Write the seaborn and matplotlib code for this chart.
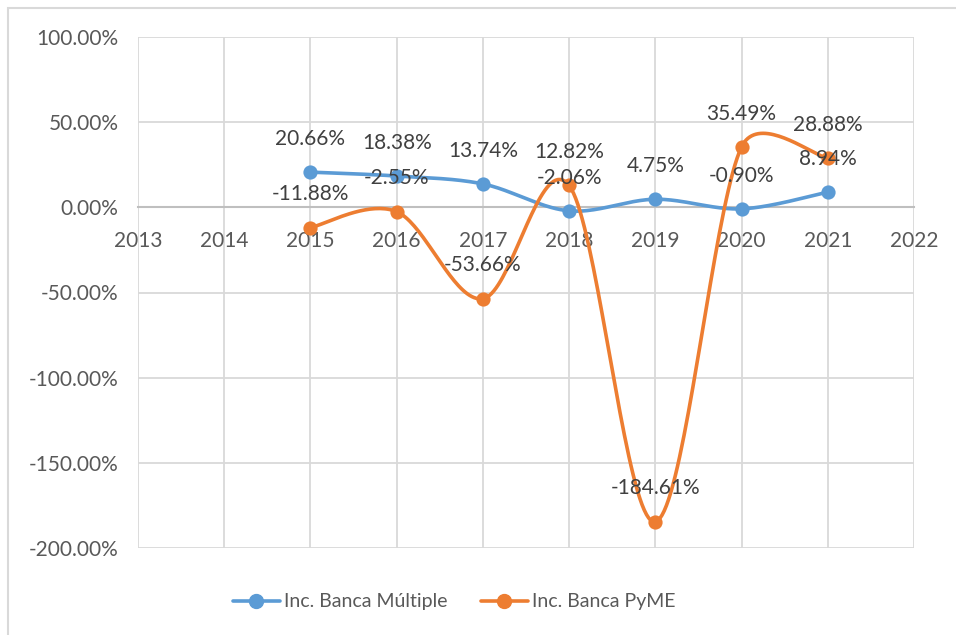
import numpy as np
import pandas as pd
import matplotlib
matplotlib.use("Agg")
import matplotlib.pyplot as plt
from matplotlib.lines import Line2D
from matplotlib.patches import Rectangle
import seaborn as sns

# Data
years = [2015, 2016, 2017, 2018, 2019, 2020, 2021]
banca_multiple = [20.66, 18.38, 13.74, -2.06, 4.75, -0.90, 8.94]
banca_pyme = [-11.88, -2.55, -53.66, 12.82, -184.61, 35.49, 28.88]
series_names = ["Inc. Banca Múltiple", "Inc. Banca PyME"]
colors = ["#5B9BD5", "#ED7D31"]
x_ticks = list(range(2013, 2023))
y_ticks = [100, 50, 0, -50, -100, -150, -200]

# pixel size of one data unit, used so the smoothing behaves like Excel's
PX_X, PX_Y = 86.2, 1.703


def smooth(xs, ys, n=40, clamp=0.45):
    # Excel-like smoothed line: Catmull-Rom Bezier handles, shortened when
    # they get long compared with the neighbouring segment (on screen)
    p = np.column_stack([np.asarray(xs, float) * PX_X, np.asarray(ys, float) * PX_Y])
    m = len(p)
    px, py = [], []

    def handle(i, seg):
        d = (p[min(i + 1, m - 1)] - p[max(i - 1, 0)]) / 6
        ln = np.linalg.norm(d)
        if ln > clamp * seg:
            d = d * clamp * seg / ln
        return d

    for i in range(m - 1):
        seg = np.linalg.norm(p[i + 1] - p[i])
        c1 = p[i] + handle(i, seg)
        c2 = p[i + 1] - handle(i + 1, seg)
        t = np.linspace(0, 1, n)[:, None]
        pts = ((1 - t) ** 3) * p[i] + 3 * ((1 - t) ** 2) * t * c1 + 3 * (1 - t) * t ** 2 * c2 + t ** 3 * p[i + 1]
        px.extend(pts[:, 0] / PX_X)
        py.extend(pts[:, 1] / PX_Y)
    return pd.DataFrame({"x": px, "y": py})


sns.set_theme(style="white")
plt.rcParams["font.family"] = ["Lato", "DejaVu Sans"]
text_color = "#595959"
grid_color = "#D9D9D9"
fs = 15

fig = plt.figure(figsize=(9.56, 6.35), dpi=100)
ax = fig.add_axes([138 / 956, 1 - 548 / 635, 776 / 956, 511 / 635])

for name, vals, col in zip(series_names, [banca_multiple, banca_pyme], colors):
    curve = smooth(years, vals)
    sns.lineplot(data=curve, x="x", y="y", ax=ax, color=col, linewidth=2.6,
                 sort=False, estimator=None, zorder=3)
    pts = pd.DataFrame({"year": years, "val": vals})
    sns.scatterplot(data=pts, x="year", y="val", ax=ax, color=col, s=105,
                    edgecolor=col, linewidth=0, zorder=4)
    for x, v in zip(years, vals):
        ax.annotate(f"{v:.2f}%", (x, v), xytext=(0, 24), textcoords="offset points",
                    ha="center", va="center", fontsize=fs, color="#404040", zorder=5)

ax.set_xlim(2013, 2022)
ax.set_ylim(-200, 100)
ax.set_xticks(x_ticks)
ax.set_yticks(y_ticks)
ax.set_yticklabels([f"{v:.2f}%" for v in y_ticks])
ax.grid(True, color=grid_color, linewidth=1.3)
ax.set_axisbelow(True)
for s in ["top", "right", "left"]:
    ax.spines[s].set_visible(False)
ax.spines["bottom"].set_position(("data", 0))
ax.spines["bottom"].set_color("#BFBFBF")
ax.spines["bottom"].set_linewidth(1.5)
ax.tick_params(axis="x", length=0, pad=17, labelsize=fs, labelcolor=text_color)
ax.tick_params(axis="y", length=0, pad=14, labelsize=fs, labelcolor=text_color)
ax.set_xlabel("")
ax.set_ylabel("")

handles = [Line2D([0], [0], color=c, linewidth=2.6, marker="o", markersize=10) for c in colors]
fig.legend(handles, series_names, loc="center", bbox_to_anchor=(0.475, 1 - 602 / 635),
           ncol=2, frameon=False, fontsize=14, labelcolor=text_color,
           handlelength=2.4, handletextpad=0.2, columnspacing=1.75)

fig.patches.append(Rectangle((8 / 956, -0.1), 1.2, 1.1 - 8 / 635, transform=fig.transFigure,
                             fill=False, edgecolor="#D9D9D9", linewidth=1.5))

fig.savefig("out.png", dpi=100)
